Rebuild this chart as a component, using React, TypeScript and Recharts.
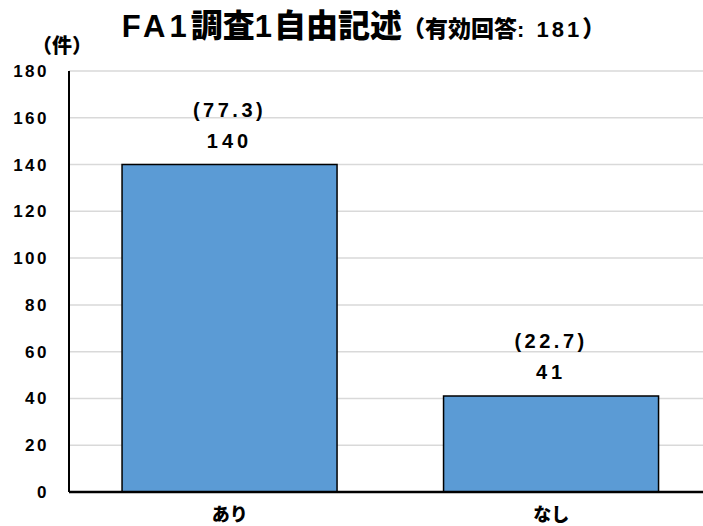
import { BarChart, Bar, XAxis, YAxis, CartesianGrid, LabelList } from 'recharts';

const categories = ['あり', 'なし'];
const counts = [140, 41];
const percents = ['77.3', '22.7'];
const yTicks = [0, 20, 40, 60, 80, 100, 120, 140, 160, 180];

const data = categories.map((name, i) => ({ name, count: counts[i], pct: percents[i] }));

const numFont = '"Liberation Sans", Arial, sans-serif';
const jpFont = '"Noto Sans CJK JP", "Liberation Sans", sans-serif';

function TwoLineLabel(props: any) {
  const { x, y, width, value, index } = props;
  const cx = x + width / 2;
  return (
    <g fontFamily={numFont} fontWeight="bold" fontSize={20} fill="#000" textAnchor="middle">
      <text x={cx} y={y - 48} letterSpacing={3.5}>({percents[index]})</text>
      <text x={cx} y={y - 17} letterSpacing={4}>{value}</text>
    </g>
  );
}

function XTick(props: any) {
  const { x, y, payload } = props;
  return (
    <text x={x} y={y + 21} textAnchor="middle" fontFamily={jpFont} fontWeight={900} fontSize={18} fill="#000">
      {payload.value}
    </text>
  );
}

export default function App() {
  return (
    <div style={{ position: 'absolute', left: 0, top: 0, width: 703, height: 526, overflow: 'hidden', background: '#fff' }}>
      <div style={{ position: 'absolute', left: 0, top: 0, width: 727, textAlign: 'center', whiteSpace: 'nowrap', fontWeight: 900, color: '#000', lineHeight: '46px' }}>
        <span style={{ fontFamily: numFont, fontSize: 31, fontWeight: 'bold', letterSpacing: 4 }}>FA1</span>
        <span style={{ fontFamily: jpFont, fontSize: 32 }}>調査</span>
        <span style={{ fontFamily: numFont, fontSize: 31, fontWeight: 'bold', letterSpacing: 2 }}>1</span>
        <span style={{ fontFamily: jpFont, fontSize: 32 }}>自由記述</span>
        <span style={{ fontFamily: jpFont, fontSize: 23 }}>（有効回答</span>
        <span style={{ fontFamily: numFont, fontSize: 22, fontWeight: 'bold', letterSpacing: 3 }}>: 181</span>
        <span style={{ fontFamily: jpFont, fontSize: 23 }}>）</span>
      </div>
      <div style={{ position: 'absolute', left: 32, top: 30, fontFamily: jpFont, fontWeight: 900, fontSize: 20, color: '#000' }}>
        （件）
      </div>
      <BarChart
        width={712}
        height={526}
        data={data}
        margin={{ top: 71, right: 0, bottom: 0, left: 0 }}
        barCategoryGap="16.5%"
      >
        <CartesianGrid vertical={false} stroke="#d9d9d9" strokeWidth={1.5} />
        <XAxis
          dataKey="name"
          height={34}
          tickLine={false}
          axisLine={{ stroke: '#000', strokeWidth: 2.5 }}
          tick={<XTick />}
        />
        <YAxis
          width={69}
          domain={[0, 180]}
          ticks={yTicks}
          interval={0}
          tickLine={false}
          tickMargin={14}
          axisLine={{ stroke: '#000', strokeWidth: 2 }}
          tick={{ fontFamily: numFont, fontWeight: 'bold', fontSize: 17, fill: '#000', letterSpacing: 2.5 }}
        />
        <Bar dataKey="count" fill="#5b9bd5" stroke="#000" strokeWidth={1.5} isAnimationActive={false}>
          <LabelList dataKey="count" content={<TwoLineLabel />} />
        </Bar>
      </BarChart>
    </div>
  );
}
